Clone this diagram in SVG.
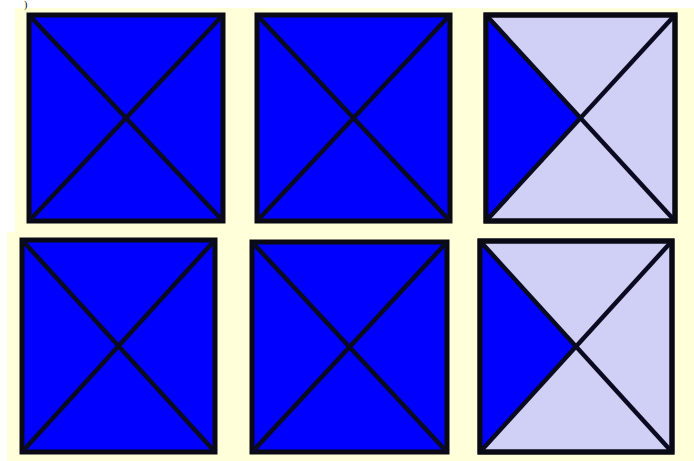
<svg xmlns="http://www.w3.org/2000/svg" width="694" height="461" viewBox="0 0 694 461">
<style>
.bg{fill:#FFFFDA}
.box{stroke:#0a0a14;stroke-width:5;stroke-linejoin:miter}
.diag{stroke:#0a0a20;stroke-width:4.5;fill:none}
.blue{fill:#0000FF}
.light{fill:#D0D0F6}
.lbl{font-family:"Liberation Serif",serif;font-size:10px;fill:#000}
</style>
<rect x="0" y="0" width="694" height="461" fill="#FFFFFF"/>
<rect class="bg" x="15" y="8" width="679" height="226"/>
<rect class="bg" x="7" y="232" width="687" height="229"/>
<text class="lbl" x="24" y="8">)</text>
<g id="top-1">
<rect class="box blue" x="29" y="15" width="194" height="206"/>
<path class="diag" d="M29 15 L223 221 M223 15 L29 221"/>
</g>
<g id="top-2">
<rect class="box blue" x="257" y="15" width="193" height="206"/>
<path class="diag" d="M257 15 L450 221 M450 15 L257 221"/>
</g>
<g id="top-3">
<rect class="box light" x="486" y="15" width="189" height="206"/>
<polygon class="blue" points="486,15 580.5,118 486,221"/>
<path class="diag" d="M486 15 L675 221 M675 15 L486 221"/>
<rect x="486" y="15" width="189" height="206" fill="none" class="box"/>
</g>
<g id="bottom-1">
<rect class="box blue" x="22" y="240" width="193" height="212"/>
<path class="diag" d="M22 240 L215 452 M215 240 L22 452"/>
</g>
<g id="bottom-2">
<rect class="box blue" x="252" y="242" width="195" height="210"/>
<path class="diag" d="M252 242 L447 452 M447 242 L252 452"/>
</g>
<g id="bottom-3">
<rect class="box light" x="480" y="241" width="192" height="211"/>
<polygon class="blue" points="480,241 576,346.5 480,452"/>
<path class="diag" d="M480 241 L672 452 M672 241 L480 452"/>
<rect x="480" y="241" width="192" height="211" fill="none" class="box"/>
</g>
<g id="connectors"></g>
</svg>
